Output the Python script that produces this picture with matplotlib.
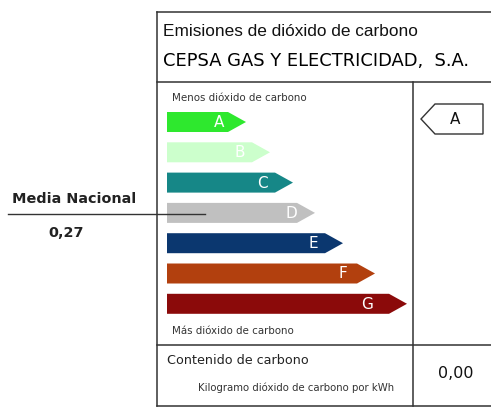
import matplotlib.pyplot as plt
from matplotlib.patches import Polygon

# rating classes, top to bottom
ratings = ['A', 'B', 'C', 'D', 'E', 'F', 'G']
colors = ['#2ee82e', '#ccffcc', '#168787', '#c0c0c0', '#0b376f', '#b2400e', '#8b0a0a']
# length of each arrow (pixels from bar start to tip)
bar_len = [79, 103, 126, 148, 176, 208, 240]

company = 'CEPSA GAS Y ELECTRICIDAD,  S.A.'
company_rating = 'A'
company_value = '0,00'
media_label = 'Media Nacional'
media_value = '0,27'

fig = plt.figure(figsize=(4.91, 4.07), dpi=100)
ax = fig.add_axes([0, 0, 1, 1])
ax.set_xlim(0, 491)
ax.set_ylim(407, 0)
ax.axis('off')

lc = '#333333'
lw = 1.1
# outer frame
ax.plot([157, 491], [12, 12], color=lc, lw=lw)
ax.plot([157, 157], [12, 406], color=lc, lw=lw)
ax.plot([157, 491], [406, 406], color=lc, lw=lw)
ax.plot([157, 491], [82, 82], color=lc, lw=lw)
ax.plot([157, 491], [345, 345], color=lc, lw=lw)
ax.plot([413, 413], [82, 406], color=lc, lw=lw)

ax.text(163, 31, 'Emisiones de dióxido de carbono', fontsize=12.4,
        family='Liberation Sans', color='#111111', va='center')
ax.text(163, 61, company, fontsize=12.9, family='DejaVu Sans',
        color='#000000', va='center')

small = dict(fontsize=7.4, color='#333333', va='center')
ax.text(172, 98, 'Menos dióxido de carbono', **small)
ax.text(172, 331, 'Más dióxido de carbono', **small)

x0 = 167
h = 20
tip = 18
# letter offset back from the arrow tip
letter_off = [27, 30, 31, 24, 30, 32, 40]
for i, (r, c, L) in enumerate(zip(ratings, colors, bar_len)):
    yc = 122 + i * 30.3
    pts = [(x0, yc - h / 2), (x0 + L - tip, yc - h / 2), (x0 + L, yc),
           (x0 + L - tip, yc + h / 2), (x0, yc + h / 2)]
    ax.add_patch(Polygon(pts, closed=True, facecolor=c, edgecolor='none'))
    ax.text(x0 + L - letter_off[i], yc + 0.5, r, color='white', fontsize=11,
            family='DejaVu Sans', ha='center', va='center')

# company indicator
yi = 119
pts = [(421, yi), (435, yi - 15), (483, yi - 15), (483, yi + 15), (435, yi + 15)]
ax.add_patch(Polygon(pts, closed=True, facecolor='white', edgecolor=lc, lw=1.0))
ax.text(455, yi, company_rating, fontsize=11, family='DejaVu Sans',
        ha='center', va='center', color='#111111')

# national average
ax.text(74, 199, media_label, fontsize=10.4, fontweight='bold', ha='center',
        va='center', color='#222222')
ax.plot([8, 205], [214, 214], color=lc, lw=1.0)
ax.text(66, 233, media_value, fontsize=10.4, fontweight='bold', ha='center',
        va='center', color='#222222')

# bottom row
ax.text(167, 361, 'Contenido de carbono', fontsize=9.2, va='center', color='#222222')
ax.text(198, 388, 'Kilogramo dióxido de carbono por kWh', fontsize=7.3,
        va='center', color='#333333')
ax.text(456, 374, company_value, fontsize=11.5, ha='center', va='center', color='#111111')

fig.savefig('out.png', dpi=100)
